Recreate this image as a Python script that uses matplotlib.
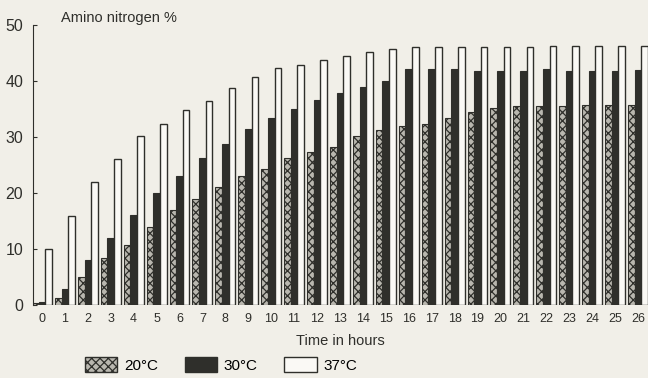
import numpy as np
import matplotlib.pyplot as plt
from matplotlib.patches import Patch

# Amino nitrogen % over time at three temperatures
hours = list(range(27))
t20 = [0.3, 1.3, 5.0, 8.4, 10.8, 14.0, 16.9, 19.0, 21.1, 23.1, 24.2, 26.3, 27.4,
       28.3, 30.2, 31.3, 31.9, 32.3, 33.4, 34.4, 35.2, 35.6, 35.6, 35.6, 35.7, 35.7, 35.7]
t30 = [0.5, 2.9, 8.0, 11.9, 16.0, 20.0, 23.1, 26.2, 28.8, 31.4, 33.4, 35.0, 36.6,
       37.8, 38.9, 40.0, 42.2, 42.2, 42.2, 41.7, 41.7, 41.7, 42.2, 41.8, 41.8, 41.8, 41.9]
t37 = [10.0, 15.9, 21.9, 26.1, 30.2, 32.3, 34.9, 36.5, 38.7, 40.7, 42.3, 42.9, 43.8,
       44.5, 45.1, 45.7, 46.1, 46.1, 46.1, 46.1, 46.1, 46.1, 46.2, 46.2, 46.2, 46.3, 46.3]
legend_labels = ["20°C", "30°C", "37°C"]

paper = "#f1efe8"
ink = "#2f2f2b"
stipple = "#b9b7af"

plt.rcParams['font.family'] = ['Liberation Sans', 'DejaVu Sans']
plt.rcParams['hatch.linewidth'] = 0.9

fig = plt.figure(figsize=(6.48, 3.78), dpi=100, facecolor=paper)
ax = fig.add_axes([0.051, 0.193, 0.949, 0.741], facecolor=paper)

x = np.array(hours)
w = 0.29
ax.bar(x - w, t20, w, facecolor=stipple, edgecolor=ink, hatch="xxxx", linewidth=0.8)
ax.bar(x, t30, w, facecolor=ink, edgecolor=ink, linewidth=0.8)
ax.bar(x + w, t37, w, facecolor="#faf9f5", edgecolor=ink, linewidth=1.0)

ax.set_xlim(-0.39, 26.44)
ax.set_ylim(0, 50)
ax.set_yticks([0, 10, 20, 30, 40, 50])
ax.set_xticks(hours)
ax.tick_params(axis='x', length=0, labelsize=9, pad=6, colors=ink)
ax.tick_params(axis='y', direction='in', length=3, labelsize=11.5, pad=7, colors=ink)
for s in ['top', 'right', 'bottom']:
    ax.spines[s].set_visible(False)
ax.spines['left'].set_color(ink)

ax.text(0.045, 1.0, "Amino nitrogen %", transform=ax.transAxes, fontsize=10.5,
        color=ink, va='bottom')
ax.set_xlabel("Time in hours", fontsize=10.5, color=ink, labelpad=6)

handles = [Patch(facecolor=stipple, edgecolor=ink, hatch="xxxx"),
           Patch(facecolor=ink, edgecolor=ink),
           Patch(facecolor="#faf9f5", edgecolor=ink)]
fig.legend(handles, legend_labels, loc='lower left', bbox_to_anchor=(0.11, -0.022),
           ncol=3, frameon=False, fontsize=11, handlelength=2.1, handleheight=1.1,
           columnspacing=1.75, handletextpad=0.45)

fig.savefig("out.png", dpi=100, facecolor=paper)
